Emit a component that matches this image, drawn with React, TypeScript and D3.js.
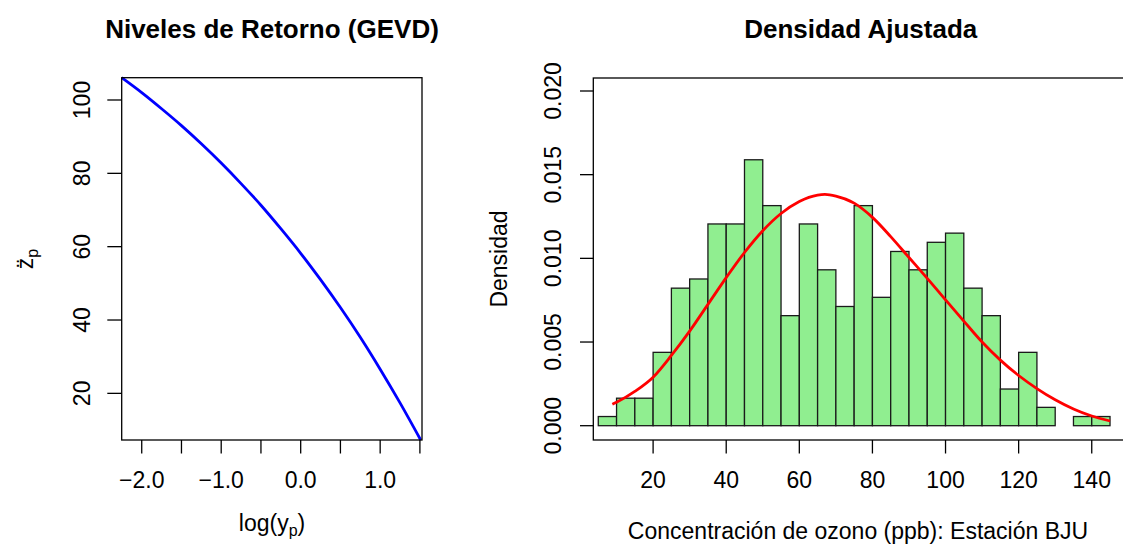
import * as d3 from "d3";

// panel izquierdo: niveles de retorno
const logYp = [-2.252, -2.0, -1.75, -1.5, -1.25, -1.0, -0.75, -0.5, -0.25, 0, 0.25, 0.5, 0.75, 1.0, 1.25, 1.51];
const zp = [106.08, 102.0, 97.6, 93.0, 88.05, 82.8, 77.2, 71.3, 64.9, 58.2, 51.0, 43.4, 35.3, 26.6, 17.4, 7.28];
const leftXTicks = [-2.0, -1.5, -1.0, -0.5, 0.0, 0.5, 1.0, 1.5];
const leftXLabelTicks = [-2.0, -1.0, 0.0, 1.0];
const leftYTicks = [20, 40, 60, 80, 100];

// panel derecho: histograma (frecuencias por clase de 5 ppb)
const binStarts = [5, 10, 15, 20, 25, 30, 35, 40, 45, 50, 55, 60, 65, 70, 75, 80, 85, 90, 95, 100, 105, 110, 115, 120, 125, 130, 135, 140];
const binCounts = [1, 3, 3, 8, 15, 16, 22, 22, 29, 24, 12, 22, 17, 13, 24, 14, 19, 17, 20, 21, 15, 12, 4, 8, 2, 0, 1, 1];
const binWidth = 5;

// densidad ajustada (curva roja)
const densX = [8.85, 10, 15, 20, 25, 30, 35, 40, 45, 50, 55, 60, 65, 67, 70, 75, 80, 85, 90, 95, 100, 105, 110, 115, 120, 125, 130, 135, 140, 145];
const densY = [0.00128, 0.0014, 0.00205, 0.0029, 0.0042, 0.00565, 0.00725, 0.00885, 0.01035, 0.01165, 0.01268, 0.0134, 0.01378, 0.01382, 0.01372, 0.0133, 0.01245, 0.0113, 0.01005, 0.0088, 0.00752, 0.00625, 0.005, 0.00392, 0.003, 0.00222, 0.00155, 0.001, 0.00058, 0.00028];
const rightXTicks = [20, 40, 60, 80, 100, 120, 140];
const rightYTicks = [0, 0.005, 0.01, 0.015, 0.02];

const W = 1123;
const H = 544;
const FONT = "'Liberation Sans', Arial, Helvetica, sans-serif";
const AX = 23;
const minus = (s: string) => s.replace("-", "\u2212");

export default function App() {
  // izquierda
  const lx = d3.scaleLinear().domain([-2.252, 1.51]).range([121.7, 420.7]);
  const ly = d3.scaleLinear().domain([7.28, 106.08]).range([440, 77.7]);
  const lLine = d3
    .line<number>()
    .x((d, i) => lx(logYp[i]))
    .y((d) => ly(d))
    .curve(d3.curveMonotoneX);

  // derecha
  const rx = d3.scaleLinear().domain([0, 150]).range([580, 1128.3]);
  const ry = d3.scaleLinear().domain([0, 0.02]).range([425.7, 91]);
  const n = d3.sum(binCounts);
  const rLine = d3
    .line<number>()
    .x((d, i) => rx(densX[i]))
    .y((d) => ry(d))
    .curve(d3.curveMonotoneX);

  const rBox = { x0: rx(3.64), x1: 1128.3, y0: 78, y1: 440 };

  return (
    <svg
      width={W}
      height={H}
      style={{ position: "absolute", left: 0, top: 0, background: "#fff" }}
      fontFamily={FONT}
    >
      {/* ---- panel izquierdo ---- */}
      <text x={272} y={38} textAnchor="middle" fontSize={26} fontWeight="bold">
        Niveles de Retorno (GEVD)
      </text>
      <path d={lLine(zp) || ""} fill="none" stroke="#0000ff" strokeWidth={2.8} />
      <rect x={121.7} y={77.7} width={300.3} height={362.3} fill="none" stroke="#000" strokeWidth={1.3} />
      {leftXTicks.map((t) => (
        <line key={t} x1={lx(t)} x2={lx(t)} y1={440} y2={453.5} stroke="#000" strokeWidth={1.3} />
      ))}
      {leftXLabelTicks.map((t) => (
        <text key={t} x={lx(t)} y={488} textAnchor="middle" fontSize={AX}>
          {minus(t.toFixed(1))}
        </text>
      ))}
      {leftYTicks.map((t) => (
        <g key={t}>
          <line x1={107.3} x2={121.7} y1={ly(t)} y2={ly(t)} stroke="#000" strokeWidth={1.3} />
          <text transform={`translate(89.5,${ly(t)}) rotate(-90)`} textAnchor="middle" fontSize={AX}>
            {t}
          </text>
        </g>
      ))}
      <text x={272} y={531} textAnchor="middle" fontSize={AX}>
        log(y
        <tspan dy={5} fontSize={16}>p</tspan>
        <tspan dy={-5}>)</tspan>
      </text>
      <text transform="translate(33,259) rotate(-90)" textAnchor="middle" fontSize={AX}>
        {"z\u0308"}
        <tspan dy={5} fontSize={16}>p</tspan>
      </text>

      {/* ---- panel derecho ---- */}
      <text x={860.7} y={38} textAnchor="middle" fontSize={26} fontWeight="bold">
        Densidad Ajustada
      </text>
      {binStarts.map((b, i) =>
        binCounts[i] > 0 ? (
          <rect
            key={b}
            x={rx(b)}
            y={ry(binCounts[i] / (n * binWidth))}
            width={rx(b + binWidth) - rx(b)}
            height={ry(0) - ry(binCounts[i] / (n * binWidth))}
            fill="#90ee90"
            stroke="#1a1a1a"
            strokeWidth={1.3}
          />
        ) : null
      )}
      <path d={rLine(densY) || ""} fill="none" stroke="#ff0000" strokeWidth={2.8} />
      <rect
        x={rBox.x0}
        y={rBox.y0}
        width={rBox.x1 - rBox.x0}
        height={rBox.y1 - rBox.y0}
        fill="none"
        stroke="#000"
        strokeWidth={1.3}
      />
      {rightXTicks.map((t) => (
        <g key={t}>
          <line x1={rx(t)} x2={rx(t)} y1={440} y2={453.5} stroke="#000" strokeWidth={1.3} />
          <text x={rx(t)} y={488} textAnchor="middle" fontSize={AX}>
            {t}
          </text>
        </g>
      ))}
      {rightYTicks.map((t) => (
        <g key={t}>
          <line x1={580} x2={rBox.x0} y1={ry(t)} y2={ry(t)} stroke="#000" strokeWidth={1.3} />
          <text transform={`translate(561,${ry(t)}) rotate(-90)`} textAnchor="middle" fontSize={AX}>
            {t.toFixed(3)}
          </text>
        </g>
      ))}
      <text x={858} y={539} textAnchor="middle" fontSize={AX}>
        Concentración de ozono (ppb): Estación BJU
      </text>
      <text transform="translate(507,259) rotate(-90)" textAnchor="middle" fontSize={AX}>
        Densidad
      </text>
    </svg>
  );
}
